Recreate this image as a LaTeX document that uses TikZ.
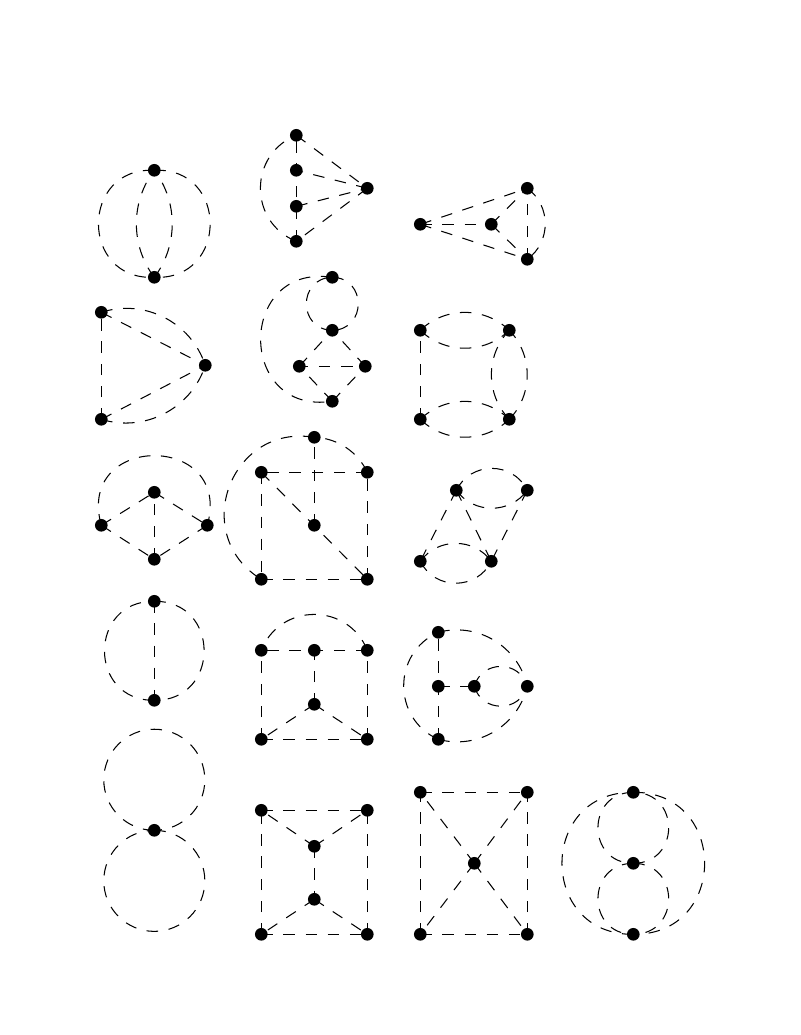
\documentclass[tikz,border=0pt]{standalone}
\tikzset{
  dot/.style={circle,fill=black,draw=none,inner sep=0pt,minimum size=9.5pt},
  dl/.style={line width=0.78pt,black,dash pattern=on 8.6pt off 8pt}
}
\newcommand\bendarc[3]{\pgfmathsetmacro\myloose{1.703/(1+cos(#3))}\draw[dl] (#1.center) to[bend left=#3,looseness=\myloose] (#2.center);}
\newcommand\seg[3][0pt]{\draw[dl,dash phase=#1] (#2.center) -- (#3.center);}
\begin{document}
\begin{tikzpicture}[x=0.75pt,y=-0.75pt]
\useasboundingbox (-0.3,-0.3) rectangle (799.7,1034.7);
% D1
\node[dot] (a1) at (154,170) {};
\node[dot] (a2) at (154,277) {};
\bendarc{a1}{a2}{92.7}\bendarc{a1}{a2}{-92.7}\bendarc{a2}{a1}{37.2}\bendarc{a2}{a1}{-37.2}
% D2
\node[dot] (b1) at (296,135) {};
\node[dot] (b2) at (296,170) {};
\node[dot] (b3) at (296,206) {};
\node[dot] (b4) at (296,241) {};
\node[dot] (b5) at (367,188) {};
\seg{b4}{b1}\seg{b1}{b5}\seg{b5}{b2}\seg{b3}{b5}\seg{b5}{b4}
\bendarc{b4}{b1}{68.4}
% D3
\node[dot] (c1) at (420,224) {};
\node[dot] (c2) at (491,224) {};
\node[dot] (c3) at (527,188) {};
\node[dot] (c4) at (527,259) {};
\seg{c1}{c3}\seg{c1}{c2}\seg{c1}{c4}\seg{c2}{c3}\seg{c2}{c4}\seg{c4}{c3}
\bendarc{c3}{c4}{53.8}
% D4
\node[dot] (d1) at (101,312) {};
\node[dot] (d2) at (101,419) {};
\node[dot] (d3) at (205,365) {};
\seg{d2}{d1}\seg{d1}{d3}\seg{d2}{d3}
\bendarc{d1}{d3}{44.7}\bendarc{d2}{d3}{-44.7}
% D5
\node[dot] (e1) at (332,277) {};
\node[dot] (e2) at (332,330) {};
\node[dot] (e3) at (299,366) {};
\node[dot] (e4) at (365,366) {};
\node[dot] (e5) at (332,401) {};
\bendarc{e1}{e2}{89}\bendarc{e2}{e1}{89}\bendarc{e1}{e5}{-98.5}
\seg{e3}{e2}\seg{e4}{e2}\seg[1.9pt]{e3}{e4}\seg{e5}{e3}\seg{e5}{e4}
% D6
\node[dot] (f1) at (420,330) {};
\node[dot] (f2) at (509,330) {};
\node[dot] (f3) at (420,419) {};
\node[dot] (f4) at (509,419) {};
\seg{f3}{f1}
\bendarc{f1}{f2}{44}\bendarc{f1}{f2}{-44}
\bendarc{f3}{f4}{44}\bendarc{f3}{f4}{-44}
\bendarc{f4}{f2}{44}\bendarc{f4}{f2}{-44}
% D7
\node[dot] (g1) at (101,525) {};
\node[dot] (g2) at (154,492) {};
\node[dot] (g3) at (207,525) {};
\node[dot] (g4) at (154,559) {};
\seg{g1}{g2}\seg{g2}{g3}\seg{g3}{g4}\seg{g1}{g4}\seg{g4}{g2}
\bendarc{g1}{g3}{105.7}
% D8
\node[dot] (h1) at (314,437) {};
\node[dot] (h2) at (261,472) {};
\node[dot] (h3) at (367,472) {};
\node[dot] (h4) at (314,525) {};
\node[dot] (h5) at (261,579) {};
\node[dot] (h6) at (367,579) {};
\seg{h3}{h2}\seg{h2}{h5}\seg{h6}{h3}\seg{h5}{h6}\seg{h2}{h6}\seg{h4}{h1}
\bendarc{h1}{h5}{-79}\bendarc{h3}{h1}{-31.6}
% D9
\node[dot] (i1) at (456,490) {};
\node[dot] (i2) at (527,490) {};
\node[dot] (i3) at (420,561) {};
\node[dot] (i4) at (491,561) {};
\seg{i1}{i3}\seg{i1}{i4}\seg{i2}{i4}
\bendarc{i1}{i2}{63.6}\bendarc{i1}{i2}{-53.8}
\bendarc{i3}{i4}{53.8}\bendarc{i3}{i4}{-63.6}
% D10
\node[dot] (j1) at (154,601) {};
\node[dot] (j2) at (154,700) {};
\seg{j1}{j2}\bendarc{j1}{j2}{90.6}\bendarc{j2}{j1}{90.6}
% D11
\node[dot] (k1) at (261,650) {};
\node[dot] (k2) at (314,650) {};
\node[dot] (k3) at (367,650) {};
\node[dot] (k4) at (314,704) {};
\node[dot] (k5) at (261,739) {};
\node[dot] (k6) at (367,739) {};
\seg{k3}{k1}\seg{k5}{k1}\seg{k6}{k3}\seg{k5}{k6}\seg{k4}{k2}\seg{k4}{k5}\seg{k4}{k6}
\bendarc{k3}{k1}{-68.4}
% D12
\node[dot] (l1) at (438,632) {};
\node[dot] (l2) at (438,686) {};
\node[dot] (l3) at (474,686) {};
\node[dot] (l4) at (527,686) {};
\node[dot] (l5) at (438,739) {};
\seg{l5}{l1}\seg{l2}{l3}
\bendarc{l3}{l4}{74}\bendarc{l3}{l4}{-74}
\bendarc{l1}{l4}{46}\bendarc{l5}{l4}{-46}\bendarc{l5}{l1}{66}
% D13
\node[dot] (m1) at (154,830) {};
\draw[dl] (m1.center) arc[start angle=270,end angle=-90,radius=37.9pt];
\draw[dl] (m1.center) arc[start angle=90,end angle=-270,radius=37.9pt];
% D14
\node[dot] (n1) at (261,810) {};
\node[dot] (n2) at (367,810) {};
\node[dot] (n3) at (314,846) {};
\node[dot] (n4) at (314,899) {};
\node[dot] (n5) at (261,934) {};
\node[dot] (n6) at (367,934) {};
\seg{n1}{n2}\seg{n5}{n1}\seg{n6}{n2}\seg{n5}{n6}\seg{n3}{n1}\seg{n3}{n2}\seg{n3}{n4}\seg{n4}{n5}\seg{n4}{n6}
% D15
\node[dot] (o1) at (420,792) {};
\node[dot] (o2) at (527,792) {};
\node[dot] (o3) at (474,863) {};
\node[dot] (o4) at (420,934) {};
\node[dot] (o5) at (527,934) {};
\seg{o1}{o2}\seg{o4}{o1}\seg{o5}{o2}\seg{o4}{o5}\seg{o3}{o1}\seg{o3}{o2}\seg{o3}{o4}\seg{o3}{o5}
% D16
\node[dot] (p1) at (633,792) {};
\node[dot] (p2) at (633,863) {};
\node[dot] (p3) at (633,934) {};
\bendarc{p1}{p3}{90.5}\bendarc{p3}{p1}{90.5}
\bendarc{p2}{p1}{-90}\bendarc{p1}{p2}{-90}
\bendarc{p2}{p3}{90}\bendarc{p2}{p3}{-90}
\end{tikzpicture}
\end{document}
